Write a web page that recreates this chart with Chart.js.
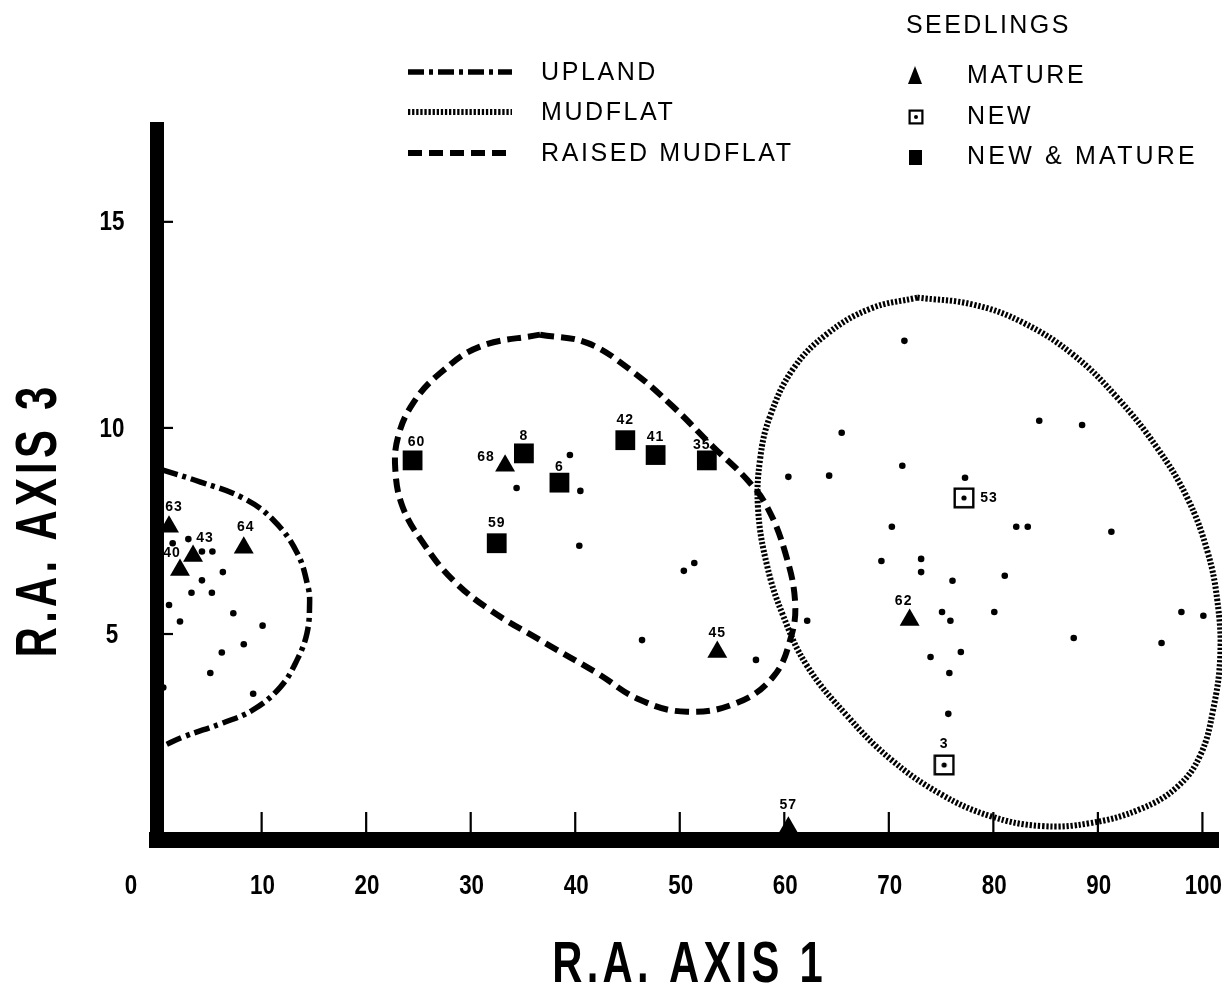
<!DOCTYPE html>
<html>
<head>
<meta charset="utf-8">
<script src="https://cdn.jsdelivr.net/npm/chart.js@4.4.1/dist/chart.umd.min.js"></script>
<style>
  html, body { margin: 0; padding: 0; background: #ffffff; }
  canvas { display: block; }
</style>
</head>
<body>
<canvas id="c" width="1222" height="996"></canvas>
<script>
// ---------------- DATA ----------------
const xAxisTitle = 'R.A. AXIS 1';
const yAxisTitle = 'R.A. AXIS 3';
const legendTitle = 'SEEDLINGS';

// Boundary curves (R.A. axis 1, R.A. axis 3)
const uplandX = [0.5, 4.1, 8.2, 11.1, 13.4, 14.45, 14.6, 14.35, 13.4, 11.8, 9.2, 6.3, 2.5, 0.6];
const uplandY = [8.98, 8.69, 8.30, 7.77, 6.97, 6.14, 5.75, 5.02, 4.37, 3.71, 3.16, 2.84, 2.50, 2.28];

const mudflatX = [72.73, 78.09, 82.87, 87.66, 91.87, 95.69, 98.56, 100.48, 101.44, 101.72, 101.05, 99.81, 97.61, 94.07, 89.28, 84.5, 79.71, 74.93, 70.14, 66.03, 62.2, 59.9, 58.37, 57.5, 57.7, 58.66, 60.86, 64.11, 68.23, 72.73];
const mudflatY = [13.16, 12.99, 12.55, 11.77, 10.73, 9.51, 8.30, 7.01, 5.80, 4.49, 3.18, 2.06, 1.29, 0.75, 0.41, 0.34, 0.58, 1.12, 1.97, 3.01, 4.22, 5.44, 6.65, 8.03, 9.25, 10.29, 11.43, 12.28, 12.89, 13.16];

const raisedX = [36.65, 41.15, 45.26, 49.38, 53.2, 56.46, 58.37, 60.1, 61.05, 60.57, 58.95, 55.5, 50.7, 46.2, 42.1, 36.65, 31.87, 28.3, 25.45, 23.5, 22.8, 23.06, 24.5, 27.1, 30.9, 36.65];
const raisedY = [12.26, 12.06, 11.41, 10.51, 9.54, 8.74, 8.08, 6.97, 5.75, 4.85, 3.96, 3.33, 3.11, 3.40, 4.05, 4.85, 5.58, 6.31, 7.21, 8.08, 8.98, 9.78, 10.6, 11.33, 11.97, 12.26];

// Plots without seedlings
const dotX = [1.5, 3.0, 4.3, 5.3, 6.3, 4.3, 3.3, 5.25, 1.15, 7.3, 2.2, 10.1, 8.3, 6.2, 5.1, 0.6, 9.2,
              39.5, 34.4, 40.5, 40.4, 51.4, 50.4, 46.4, 57.3,
              60.4, 64.3, 62.2, 71.5, 65.5, 71.3, 77.3, 70.3, 69.3, 73.1, 73.1, 76.1, 81.1, 75.1, 75.9, 80.1,
              74.0, 76.9, 75.8, 75.7, 87.7, 98.0, 100.1, 96.1, 84.4, 88.5, 82.2, 83.3, 91.3];
const dotY = [7.2, 7.3, 7.0, 7.0, 6.5, 6.3, 6.0, 6.0, 5.7, 5.5, 5.3, 5.2, 4.75, 4.55, 4.05, 3.7, 3.55,
              9.34, 8.54, 8.47, 7.14, 6.72, 6.53, 4.85, 4.37,
              8.81, 8.84, 5.32, 12.11, 9.88, 9.08, 8.79, 7.6, 6.77, 6.82, 6.5, 6.29, 6.41, 5.53, 5.32, 5.53,
              4.44, 4.56, 4.05, 3.06, 4.9, 5.53, 5.44, 4.78, 10.17, 10.07, 7.6, 7.6, 7.48];

// Seedlings: mature
const matureIds = ['63', '43', '40', '64', '68', '45', '62', '57'];
const matureX = [1.15, 3.45, 2.2, 8.3, 33.3, 53.6, 72.0, 60.4];
const matureY = [7.6, 6.89, 6.55, 7.09, 9.08, 4.56, 5.34, 0.3];

// Seedlings: new
const newIds = ['53', '3'];
const newX = [77.2, 75.3];
const newY = [8.3, 1.82];

// Seedlings: new & mature
const nmIds = ['60', '8', '6', '59', '42', '41', '35'];
const nmX = [24.45, 35.1, 38.5, 32.5, 44.8, 47.7, 52.6];
const nmY = [9.21, 9.38, 8.67, 7.2, 9.7, 9.34, 9.21];

// Axis ranges and ticks
const xMin = 0, xMax = 101.5, xStep = 10;
const yMin = 0, yMax = 17.25, yStep = 5;

// ---------------- STYLE / LAYOUT ----------------
const ink = '#000000';
const tickFontCss = "bold 28px 'Liberation Sans', Arial, sans-serif";
const tickSqueeze = 0.8;
const labelOffsets = {
  '63': [5, -20], '43': [12, -18], '40': [-8, -17], '64': [2, -21], '68': [-19, -9], '45': [0, -19],
  '62': [-6, -19], '57': [0, -22], '53': [25, 0], '3': [0, -21], '60': [4, -18], '8': [0, -17],
  '6': [0, -16], '59': [0, -20], '42': [0, -20], '41': [0, -18], '35': [-5, -15]
};

const toXY = (xs, ys) => xs.map((v, i) => ({ x: v, y: ys[i] }));

function makeNewSymbol(size, lw, dot) {
  const c = document.createElement('canvas');
  c.width = size; c.height = size;
  const g = c.getContext('2d');
  g.strokeStyle = ink; g.lineWidth = lw;
  g.strokeRect(lw / 2 + 0.5, lw / 2 + 0.5, size - lw - 1, size - lw - 1);
  g.fillStyle = ink;
  g.beginPath(); g.arc(size / 2, size / 2, dot, 0, Math.PI * 2); g.fill();
  return c;
}
const newSymbol = makeNewSymbol(22, 2.4, 2.6);
const newSymbolSmall = makeNewSymbol(16, 2.2, 2.0);

const lineBase = { type: 'scatter', showLine: true, pointRadius: 0, pointHoverRadius: 0, fill: false,
  borderColor: ink, tension: 0.4, clip: false, borderCapStyle: 'butt' };

const datasets = [
  { type: 'scatter', label: 'MATURE', ids: matureIds, data: toXY(matureX, matureY), pointStyle: 'triangle',
    pointRadius: 11.5, pointBackgroundColor: ink, pointBorderColor: ink, pointBorderWidth: 0, clip: false },
  { type: 'scatter', label: 'NEW', ids: newIds, data: toXY(newX, newY), pointStyle: newSymbol,
    pointRadius: 11, clip: false },
  { type: 'scatter', label: 'NEW & MATURE', ids: nmIds, data: toXY(nmX, nmY), pointStyle: 'rect',
    pointRadius: 14, pointBackgroundColor: ink, pointBorderColor: ink, pointBorderWidth: 0, clip: false },
  { type: 'scatter', label: 'plots', data: toXY(dotX, dotY), pointStyle: 'circle', pointRadius: 3.3,
    pointBackgroundColor: ink, pointBorderWidth: 0, clip: false },
  Object.assign({}, lineBase, { label: 'UPLAND', data: toXY(uplandX, uplandY), borderWidth: 5.5, borderDash: [16, 5, 4, 5] }),
  Object.assign({}, lineBase, { label: 'MUDFLAT', data: toXY(mudflatX, mudflatY), borderWidth: 6, borderDash: [2.3, 1.8] }),
  Object.assign({}, lineBase, { label: 'RAISED MUDFLAT', data: toXY(raisedX, raisedY), borderWidth: 6, borderDash: [14, 7] })
];

function drawCondensed(ctx, text, cx, cy, angle, font, sx, spacing, align) {
  ctx.save();
  ctx.translate(cx, cy);
  ctx.rotate(angle);
  ctx.scale(sx, 1);
  ctx.font = font;
  try { ctx.letterSpacing = spacing + 'px'; } catch (e) {}
  ctx.textAlign = align || 'center';
  ctx.textBaseline = 'middle';
  ctx.fillStyle = ink;
  ctx.fillText(text, (align === 'right') ? 0 : spacing / 2, 0);
  ctx.restore();
}

const overlay = {
  id: 'overlay',
  afterDraw(chart) {
    const { ctx, chartArea } = chart;
    const xs = chart.scales.x, ys = chart.scales.y;
    ctx.save();
    ctx.fillStyle = ink;
    // inward tick marks
    xs.ticks.forEach(t => {
      if (t.value === 0) return;
      const px = xs.getPixelForValue(t.value);
      ctx.fillRect(px - 1, chartArea.bottom - 28, 2.2, 28);
    });
    ys.ticks.forEach(t => {
      if (t.value === 0) return;
      const py = ys.getPixelForValue(t.value);
      ctx.fillRect(chartArea.left, py - 1, 16, 2.2);
    });
    // tick labels (condensed bold), positioned by the scales
    xs.ticks.forEach(t => {
      const px = xs.getPixelForValue(t.value) + (t.value === 0 ? -26 : 1);
      drawCondensed(ctx, String(t.value), px, chartArea.bottom + 46, 0, tickFontCss, tickSqueeze, 0);
    });
    ys.ticks.forEach(t => {
      if (t.value === 0) return;
      drawCondensed(ctx, String(t.value), 112, ys.getPixelForValue(t.value) + 1, 0, tickFontCss, tickSqueeze, 0);
    });

    // point id labels
    ctx.font = "bold 14px 'Liberation Sans', Arial, sans-serif";
    ctx.textAlign = 'center'; ctx.textBaseline = 'middle';
    try { ctx.letterSpacing = '1px'; } catch (e) {}
    chart.data.datasets.forEach((ds, di) => {
      if (!ds.ids) return;
      const meta = chart.getDatasetMeta(di);
      meta.data.forEach((el, j) => {
        const id = ds.ids[j];
        const off = labelOffsets[id] || [0, -18];
        ctx.fillText(id, el.x + off[0], el.y + off[1]);
      });
    });
    try { ctx.letterSpacing = '0px'; } catch (e) {}

    // axis titles
    drawCondensed(ctx, xAxisTitle, (chartArea.left + chartArea.right) / 2, 966, 0,
      "bold 58px 'Liberation Sans', Arial, sans-serif", 0.72, 6);
    drawCondensed(ctx, yAxisTitle, 40, 522, -Math.PI / 2,
      "bold 58px 'Liberation Sans', Arial, sans-serif", 0.72, 6);

    // legend: boundary lines
    const byLabel = {};
    chart.data.datasets.forEach(d => { byLabel[d.label] = d; });
    const legFont = "25px 'Liberation Sans', Arial, sans-serif";
    const lineRows = [['UPLAND', 72], ['MUDFLAT', 112], ['RAISED MUDFLAT', 153]];
    lineRows.forEach(([name, yy]) => {
      const d = byLabel[name];
      ctx.save();
      ctx.strokeStyle = ink;
      ctx.lineWidth = d.borderWidth;
      ctx.setLineDash(d.borderDash);
      ctx.beginPath(); ctx.moveTo(408, yy); ctx.lineTo(512, yy); ctx.stroke();
      ctx.restore();
      ctx.save();
      ctx.font = legFont; ctx.textAlign = 'left'; ctx.textBaseline = 'middle'; ctx.fillStyle = ink;
      try { ctx.letterSpacing = '2.6px'; } catch (e) {}
      ctx.fillText(name, 541, yy + 1);
      ctx.restore();
    });
    // legend: seedlings
    ctx.save();
    ctx.font = legFont; ctx.textAlign = 'left'; ctx.textBaseline = 'middle'; ctx.fillStyle = ink;
    try { ctx.letterSpacing = '2.4px'; } catch (e) {}
    ctx.fillText(legendTitle, 906, 26);
    const symRows = [['MATURE', 76], ['NEW', 117], ['NEW & MATURE', 157]];
    symRows.forEach(([name, yy]) => {
      try { ctx.letterSpacing = name === 'NEW & MATURE' ? '3.2px' : '2.6px'; } catch (e) {}
      ctx.fillText(name, 967, yy);
    });
    try { ctx.letterSpacing = '0px'; } catch (e) {}
    ctx.beginPath();
    ctx.moveTo(915, 66); ctx.lineTo(922, 84); ctx.lineTo(908, 84); ctx.closePath(); ctx.fill();
    ctx.drawImage(newSymbolSmall, 916 - 8, 117 - 8);
    ctx.fillRect(909, 150, 13, 15);
    ctx.restore();
    ctx.restore();
  }
};

new Chart(document.getElementById('c'), {
  type: 'scatter',
  data: { datasets },
  options: {
    responsive: false,
    animation: false,
    devicePixelRatio: 1,
    events: [],
    layout: { autoPadding: false, padding: { top: 129, right: 4, left: 0, bottom: 0 } },
    plugins: { legend: { display: false }, tooltip: { enabled: false } },
    scales: {
      x: {
        type: 'linear', position: 'bottom', min: xMin, max: xMax,
        afterFit: s => { s.height = 156; s.paddingLeft = 0; s.paddingRight = 0; },
        grid: { display: false, drawTicks: false },
        border: { display: true, width: 16, color: ink },
        ticks: { display: false, stepSize: xStep, includeBounds: false, autoSkip: false }
      },
      y: {
        type: 'linear', position: 'left', min: yMin, max: yMax,
        afterFit: s => { s.width = 157; s.paddingTop = 0; s.paddingBottom = 0; },
        grid: { display: false, drawTicks: false },
        border: { display: true, width: 14, color: ink },
        ticks: { display: false, stepSize: yStep, includeBounds: false, autoSkip: false }
      }
    }
  },
  plugins: [overlay]
});
</script>
</body>
</html>
